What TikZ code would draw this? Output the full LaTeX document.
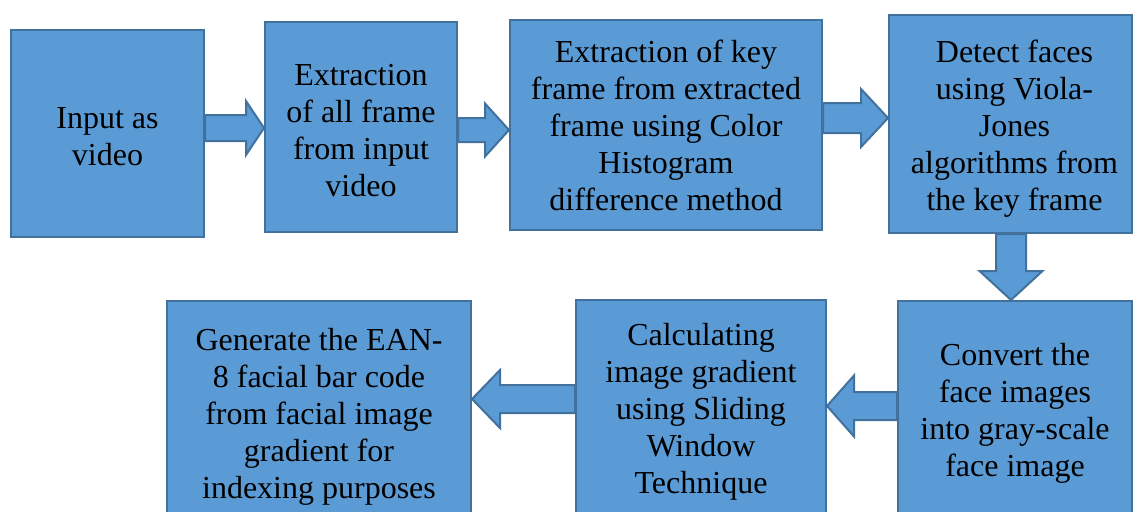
\documentclass[tikz,border=0pt]{standalone}
\usepackage{fontspec}
\setmainfont{Liberation Serif}
\usepackage{tikz}
\usetikzlibrary{calc, positioning}

\definecolor{boxfill}{HTML}{5B9BD5}
\definecolor{boxline}{HTML}{41719C}

% block arrow: tail, tip, shaft half width, head half width, head length
\newcommand{\blockarrow}[5]{%
  \path (#1) coordinate (bt) (#2) coordinate (bp) ($(bp)!#5!(bt)$) coordinate (bh);
  \draw[barrow] ($(bt)!#3!90:(bp)$) -- ($(bh)!#3!90:(bp)$) -- ($(bh)!#4!90:(bp)$)
    -- (bp) -- ($(bh)!#4!-90:(bp)$) -- ($(bh)!#3!-90:(bp)$) -- ($(bt)!#3!-90:(bp)$) -- cycle;
}
% extra room above the first line of a box
\newcommand{\pad}[1]{\rule{0pt}{#1}}

\begin{document}
\begin{tikzpicture}[x=1pt, y=-1pt,
    box/.style={rectangle, draw=boxline, fill=boxfill, line width=2pt, align=center,
      inner sep=0pt, font={\fontsize{32}{37}\selectfont}},
    barrow/.style={draw=boxline, fill=boxfill, line width=2pt, line join=miter}]
    \useasboundingbox (0,0) rectangle (1134,511);
    \clip (0,0) rectangle (1134,511);

    \node[box, minimum width=193pt, minimum height=207pt] (input) at (107.5,133.5) {\pad{27pt}Input as\\video};
    \node[box, minimum width=192pt, minimum height=210pt] (frames) at (361,127) {\pad{28pt}Extraction\\of all frame\\from input\\video};
    \node[box, minimum width=312pt, minimum height=210pt] (keyframe) at (666,125) {\pad{24pt}Extraction of key\\frame from extracted\\frame using Color\\Histogram\\difference method};
    \node[box, minimum width=243pt, minimum height=218pt] (detect) at (1010.5,124) {\pad{32pt}\hspace*{8pt}Detect faces\\\hspace*{8pt}using Viola-\\\hspace*{8pt}Jones\\\hspace*{8pt}algorithms from\\\hspace*{8pt}the key frame};
    \node[box, minimum width=234pt, minimum height=218pt] (gray) at (1015,410) {\pad{28pt}Convert the\\face images\\into gray-scale\\face image};
    \node[box, minimum width=250pt, minimum height=216pt] (gradient) at (701,408) {\pad{30pt}Calculating\\image gradient\\using Sliding\\Window\\Technique};
    \node[box, minimum width=304pt, minimum height=221pt] (barcode) at (319,411.5) {\pad{32pt}Generate the EAN-\\8 facial bar code\\from facial image\\gradient for\\indexing purposes};

    \blockarrow{input.east |- 0,128}{frames.west |- 0,128}{13pt}{27pt}{18pt}
    \blockarrow{frames.east |- 0,130}{keyframe.west |- 0,130}{12pt}{26.5pt}{24pt}
    \blockarrow{keyframe.east |- 0,118}{detect.west |- 0,118}{15pt}{29pt}{27pt}
    \blockarrow{detect.south -| 1011,0}{gray.north -| 1011,0}{15pt}{31.5pt}{29pt}
    \blockarrow{gray.west |- 0,406}{gradient.east |- 0,406}{14pt}{30.5pt}{27pt}
    \blockarrow{gradient.west |- 0,399}{barcode.east |- 0,399}{14pt}{29pt}{28pt}
\end{tikzpicture}
\end{document}
